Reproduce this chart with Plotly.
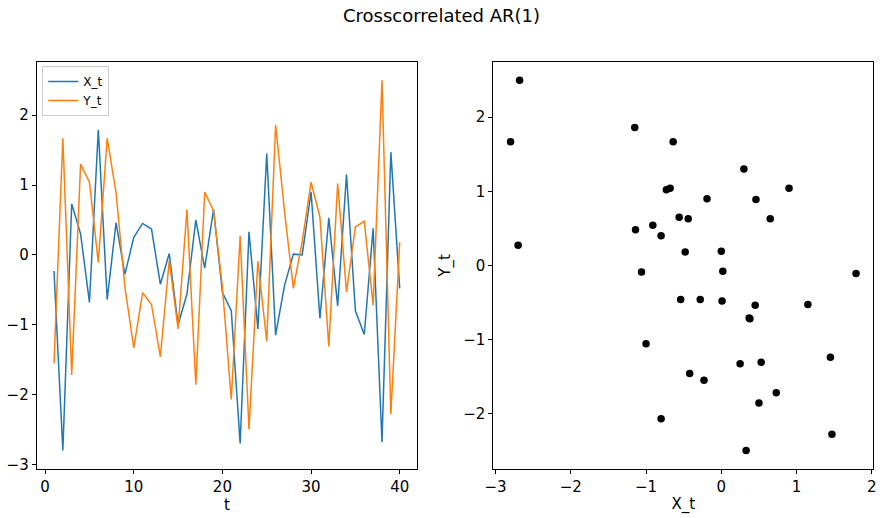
import plotly.graph_objects as go

t = list(range(1, 41))
x_t = [-0.23, -2.80, 0.73, 0.30, -0.68, 1.79, -0.64, 0.46, -0.28, 0.25,
       0.45, 0.37, -0.42, 0.02, -1.00, -0.56, 0.50, -0.19, 0.65, -0.54,
       -0.80, -2.70, 0.33, -1.06, 1.45, -1.15, -0.44, 0.01, 0.00, 0.90,
       -0.91, 0.53, -0.73, 1.15, -0.80, -1.14, 0.38, -2.68, 1.47, -0.48]
y_t = [-1.55, 1.67, -1.72, 1.30, 1.04, -0.11, 1.67, 0.89, -0.46, -1.33,
       -0.54, -0.71, -1.46, -0.08, -1.06, 0.65, -1.86, 0.90, 0.63, -0.46,
       -2.07, 0.27, -2.50, -0.09, -1.24, 1.86, 0.63, -0.48, 0.19, 1.04,
       0.54, -1.31, 1.02, -0.53, 0.40, 0.48, -0.72, 2.50, -2.28, 0.18]

title = "Crosscorrelated AR(1)"
font = "DejaVu Sans"


def pad(vals, frac=0.05):
    lo, hi = min(vals), max(vals)
    d = (hi - lo) * frac
    return [lo - d, hi + d]


W, H = 883, 518
fig = go.Figure()
fig.add_trace(go.Scatter(x=t, y=x_t, mode="lines", name="X_t",
                         line=dict(color="#1f77b4", width=1.5),
                         xaxis="x", yaxis="y"))
fig.add_trace(go.Scatter(x=t, y=y_t, mode="lines", name="Y_t",
                         line=dict(color="#ff7f0e", width=1.5),
                         xaxis="x", yaxis="y"))
fig.add_trace(go.Scatter(x=x_t, y=y_t, mode="markers", showlegend=False,
                         marker=dict(color="black", size=7.5),
                         xaxis="x2", yaxis="y2"))

ax_common = dict(showline=True, linecolor="black", linewidth=1, mirror=True,
                 ticks="outside", ticklen=4, tickwidth=1, tickcolor="black",
                 showgrid=False, zeroline=False, automargin=False,
                 tickfont=dict(size=15, color="black", family=font))

ydom = [1 - 469 / H, 1 - 61.7 / H]
fig.update_layout(
    template="none",
    width=W, height=H,
    margin=dict(l=0, r=0, t=0, b=0, pad=0),
    paper_bgcolor="white", plot_bgcolor="white",
    font=dict(family=font, color="black"),
    title=dict(text=title, x=0.5, xanchor="center", y=1 - 16 / H, yanchor="middle",
               font=dict(size=18, family=font, color="black")),
    xaxis=dict(domain=[36.7 / W, 417 / W], range=pad(t), tickvals=[0, 10, 20, 30, 40],
               title=dict(text="t", font=dict(size=15), standoff=3), anchor="y", **ax_common),
    yaxis=dict(domain=ydom, range=pad(x_t + y_t), tickvals=[-3, -2, -1, 0, 1, 2],
               anchor="x", **ax_common),
    xaxis2=dict(domain=[493.3 / W, 873.3 / W], range=pad(x_t), tickvals=[-3, -2, -1, 0, 1, 2],
                title=dict(text="X_t", font=dict(size=15), standoff=3), anchor="y2", **ax_common),
    yaxis2=dict(domain=ydom, range=pad(y_t), tickvals=[-2, -1, 0, 1, 2],
                title=dict(text="Y_t", font=dict(size=15), standoff=8), anchor="x2", **ax_common),
    legend=dict(x=42.3 / W, y=1 - 66 / H, xanchor="left", yanchor="top",
                bgcolor="rgba(255,255,255,0.8)", bordercolor="#cccccc", borderwidth=1,
                font=dict(size=12, family=font, color="black"),
                tracegroupgap=0, itemwidth=30),
    showlegend=True,
)

fig.write_html("out.html", config={"displayModeBar": False},
               post_script="document.body.style.margin='0';document.body.style.overflow='hidden';")
